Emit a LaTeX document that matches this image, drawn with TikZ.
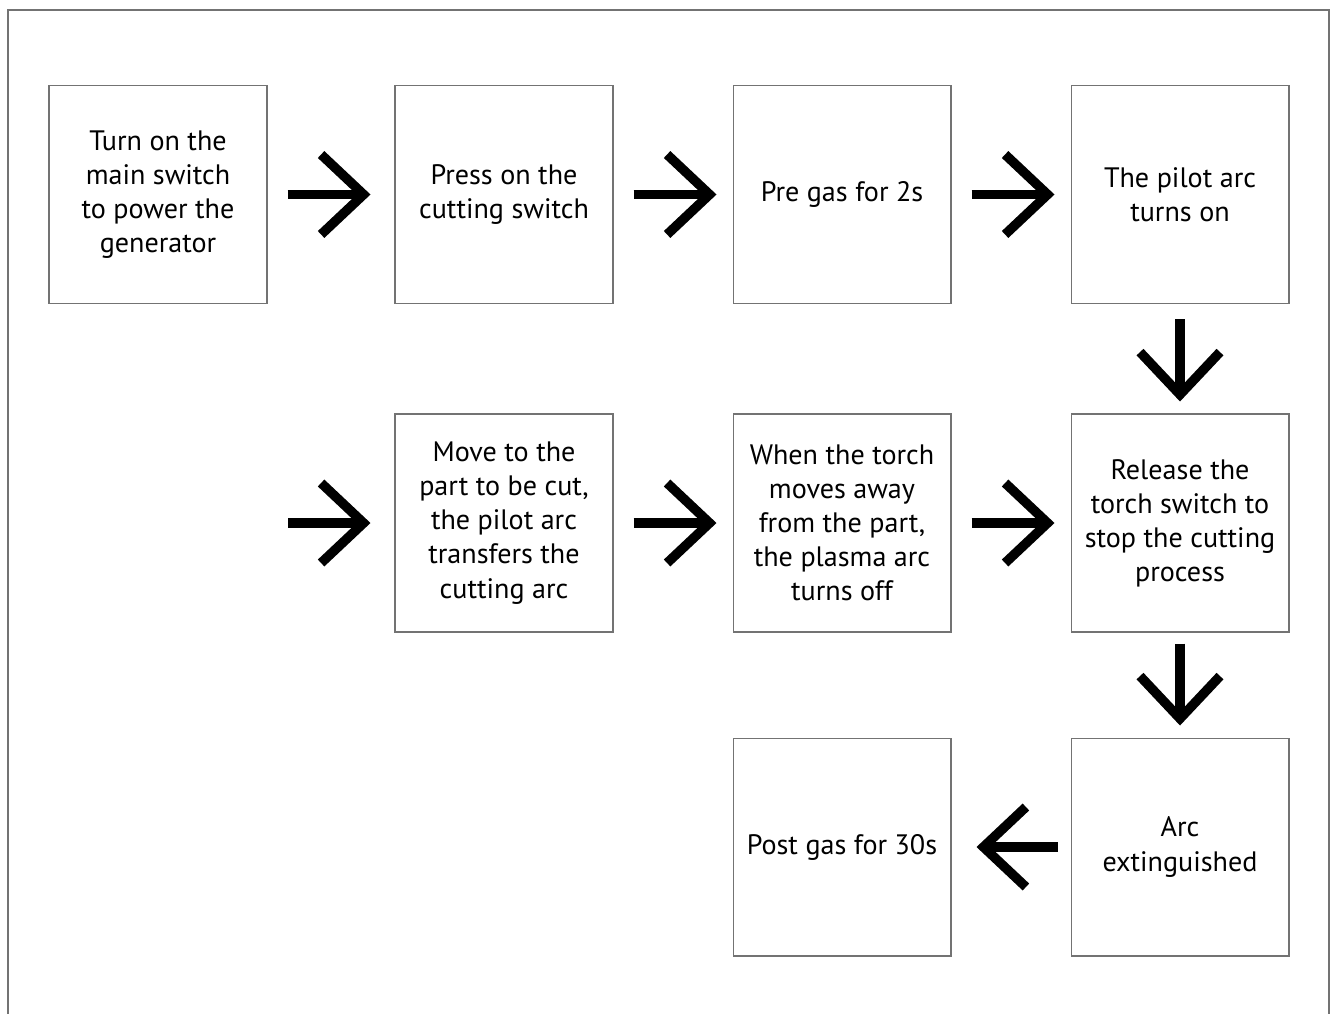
\documentclass[tikz,border=0pt]{standalone}
\usepackage{fontspec}
\setmainfont{PT Sans}
\usetikzlibrary{arrows.meta}

\begin{document}
\begin{tikzpicture}[
    x=0.02cm, y=-0.02cm,
    stepbox/.style={rectangle, draw=black!55, line width=0.6pt, fill=white,
        minimum size=4.36cm, inner sep=2pt, align=center,
        font=\fontsize{16}{19.4}\selectfont},
    flow/.style={line width=5.4pt, -{Straight Barb[length=0.85cm, width=1.6cm]},
        shorten <=0.4cm, shorten >=0.32cm}
]
    \useasboundingbox (0,0) rectangle (1336,1014);
    \draw[black!55, line width=0.6pt] (8,1020) -- (8,10) -- (1329,10) -- (1329,1020);

    \node[stepbox] (power) at (158,194.5) {Turn on the\\main switch\\to power the\\generator};
    \node[stepbox] (press) at (504,194.5) {Press on the\\cutting switch};
    \node[stepbox] (pregas) at (842,194.5) {Pre gas for 2s};
    \node[stepbox] (pilot) at (1180,194.5) {The pilot arc\\turns on};
    \node[stepbox] (move) at (504,523) {Move to the\\part to be cut,\\the pilot arc\\transfers the\\cutting arc};
    \node[stepbox] (away) at (842,523) {When the torch\\moves away\\from the part,\\the plasma arc\\turns off};
    \node[stepbox] (release) at (1180,523) {Release the\\torch switch to\\stop the cutting\\process};
    \node[stepbox] (arc) at (1180,847) {Arc\\extinguished};
    \node[stepbox] (postgas) at (842,847) {Post gas for 30s};
    \coordinate (start) at (288,523);

    \draw[flow, shorten >=0.48cm] (power) -- (press);
    \draw[flow] (press) -- (pregas);
    \draw[flow] (pregas) -- (pilot);
    \draw[flow, shorten <=0.3cm, shorten >=0.24cm] (pilot) -- (release);
    \draw[flow, shorten <=0pt, shorten >=0.48cm] (start) -- (move);
    \draw[flow] (move) -- (away);
    \draw[flow] (away) -- (release);
    \draw[flow, shorten <=0.22cm, shorten >=0.24cm] (release) -- (arc);
    \draw[flow, shorten <=0.26cm, shorten >=0.5cm] (arc) -- (postgas);
\end{tikzpicture}
\end{document}
